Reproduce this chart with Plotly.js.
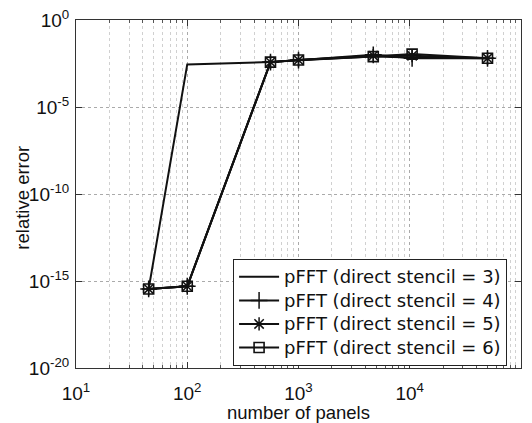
<!DOCTYPE html>
<html>
<head>
<meta charset="utf-8">
<script src="https://cdn.plot.ly/plotly-3.0.1.min.js"></script>
<style>html,body{margin:0;padding:0;background:#fff;}#chart{width:532px;height:423px;}</style>
</head>
<body>
<div id="chart"></div>
<script>
// Data (x: number of panels, y: relative error)
const panels3 = [45, 100, 560, 1000, 4700, 10500, 50000];
const error3  = [3.5e-16, 2.8e-3, 3.8e-3, 4.8e-3, 7.9e-3, 7.0e-3, 6.3e-3];
const panels4 = [45, 100, 560, 1000, 4700, 10500, 50000];
const error4  = [3.5e-16, 5.0e-16, 3.8e-3, 5.0e-3, 1.0e-2, 6.3e-3, 6.3e-3];
const panels5 = [45, 100, 560, 1000, 4700, 10500, 50000];
const error5  = [3.5e-16, 5.0e-16, 3.8e-3, 5.0e-3, 8.9e-3, 8.9e-3, 6.3e-3];
const panels6 = [45, 100, 560, 1000, 4700, 10500, 50000];
const error6  = [3.5e-16, 5.0e-16, 3.8e-3, 5.0e-3, 7.9e-3, 1.1e-2, 6.3e-3];
const seriesNames = [
  'pFFT (direct stencil = 3)',
  'pFFT (direct stencil = 4)',
  'pFFT (direct stencil = 5)',
  'pFFT (direct stencil = 6)'
];
const xTickVals = [1e1, 1e2, 1e3, 1e4, 1e5];
const xTickText = ['10<sup>1</sup>', '10<sup>2</sup>', '10<sup>3</sup>', '10<sup>4</sup>', '10<sup>5</sup>'];
const yTickVals = [1e-20, 1e-15, 1e-10, 1e-5, 1e0];
const yTickText = ['10<sup>-20</sup>', '10<sup>-15</sup>', '10<sup>-10</sup>', '10<sup>-5</sup>', '10<sup>0</sup>'];
const xTitle = 'number of panels';
const yTitle = 'relative error';

const legendName = s => '<span style="font-size:18px">' + s + '</span>';
const lineStyle = {color: '#111', width: 2};
const traces = [
  {x: panels3, y: error3, name: legendName(seriesNames[0]), mode: 'lines', line: lineStyle},
  {x: panels4, y: error4, name: legendName(seriesNames[1]), mode: 'lines+markers', line: lineStyle,
   marker: {symbol: 'cross-thin-open', size: 12, line: {color: '#111', width: 1.5}}},
  {x: panels5, y: error5, name: legendName(seriesNames[2]), mode: 'lines+markers', line: lineStyle,
   marker: {symbol: 'asterisk-open', size: 11, line: {color: '#111', width: 1.5}}},
  {x: panels6, y: error6, name: legendName(seriesNames[3]), mode: 'lines+markers', line: lineStyle,
   marker: {symbol: 'square-open', size: 10, color: '#111', line: {color: '#111', width: 1.6}}}
];

const font = {family: 'Liberation Sans, Arial, sans-serif', color: '#111'};
const layout = {
  width: 532, height: 423,
  margin: {l: 76, r: 11, t: 20, b: 55},
  paper_bgcolor: '#fff', plot_bgcolor: '#fff',
  font: Object.assign({size: 19}, font),
  showlegend: true,
  legend: {
    x: 0.353, y: 0.313, xanchor: 'left', yanchor: 'top',
    bgcolor: '#fff', bordercolor: '#222', borderwidth: 1,
    font: {family: 'DejaVu Sans, sans-serif', color: '#111', size: 15.8},
    tracegroupgap: 0, itemwidth: 40
  },
  xaxis: {
    type: 'log', range: [1, 5],
    tickvals: xTickVals, ticktext: xTickText,
    ticks: 'inside', ticklen: 6, tickcolor: '#333',
    showline: true, linecolor: '#333', linewidth: 1, mirror: 'ticks',
    showgrid: true, gridcolor: '#aaa', griddash: 'dot', gridwidth: 1,
    zeroline: false,
    ticklabelstandoff: 8,
    tickfont: Object.assign({size: 19}, font),
    minor: {dtick: 'D1', ticks: 'inside', ticklen: 3, tickcolor: '#555',
            showgrid: true, gridcolor: '#d0d0d0', griddash: 'dot', gridwidth: 1},
    title: {text: xTitle, font: Object.assign({size: 18.5}, font), standoff: 3}
  },
  yaxis: {
    type: 'log', range: [-20, 0],
    tickvals: yTickVals, ticktext: yTickText,
    ticks: 'inside', ticklen: 6, tickcolor: '#333',
    showline: true, linecolor: '#333', linewidth: 1, mirror: 'ticks',
    showgrid: true, gridcolor: '#aaa', griddash: 'dot', gridwidth: 1,
    zeroline: false,
    ticklabelstandoff: 2,
    tickfont: Object.assign({size: 19}, font)
  },
  annotations: [{
    text: yTitle, textangle: -90, showarrow: false,
    xref: 'paper', yref: 'paper', x: -0.121, y: 0.49,
    xanchor: 'center', yanchor: 'middle',
    font: Object.assign({size: 18.5}, font)
  }]
};

Plotly.newPlot('chart', traces, layout, {displayModeBar: false, staticPlot: true});
</script>
</body>
</html>
